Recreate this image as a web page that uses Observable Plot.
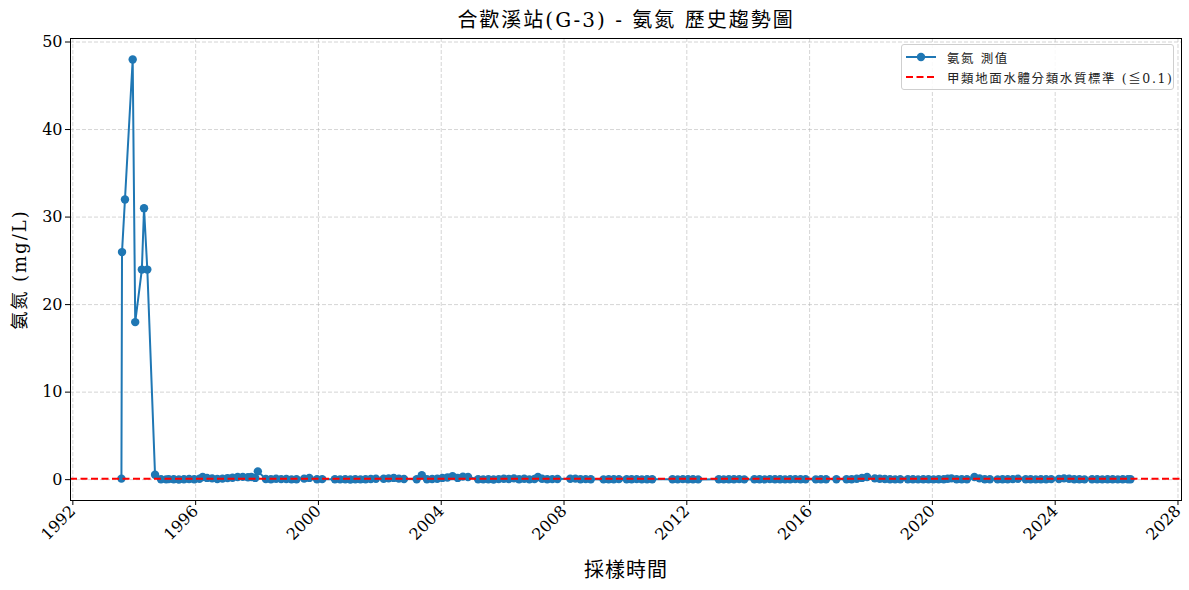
<!DOCTYPE html>
<html>
<head>
<meta charset="utf-8">
<script src="https://cdn.jsdelivr.net/npm/d3@7"></script>
<script src="https://cdn.jsdelivr.net/npm/@observablehq/plot@0.6"></script>
<style>
  html, body { margin: 0; padding: 0; background: #fff; }
  #wrap { position: relative; width: 1189px; height: 590px; font-family: "DejaVu Serif", "Noto Sans CJK TC", serif; }
  #legend { position: absolute; left: 901px; top: 44px; width: 271px; height: 44px; border: 1px solid #cfcfcf; border-radius: 3px; background: rgba(255,255,255,0.85); font-size: 12.5px; color: #222; }
  .row { position: absolute; left: 3px; height: 20px; display: flex; align-items: center; }
  .row span { margin-left: 10px; white-space: nowrap; letter-spacing: 1.6px; }
</style>
</head>
<body>
<div id="wrap">
  <div id="chart"></div>
  <div id="legend">
    <div class="row" style="top:2px"><svg width="32" height="12"><line x1="1" y1="6" x2="31" y2="6" stroke="#1f77b4" stroke-width="2"/><circle cx="16" cy="6" r="4.2" fill="#1f77b4"/></svg><span>氨氮 測值</span></div>
    <div class="row" style="top:22px"><svg width="32" height="12"><line x1="1" y1="6" x2="31" y2="6" stroke="red" stroke-width="2" stroke-dasharray="7,3.5"/></svg><span>甲類地面水體分類水質標準 (≦0.1)</span></div>
  </div>
</div>
<script>
const title = "合歡溪站(G-3) - 氨氮 歷史趨勢圖";
const xLabel = "採樣時間";
const yLabel = "氨氮 (mg/L)";
const standard = 0.1;
const yTicks = [0, 10, 20, 30, 40, 50];
const xTickYears = [1992, 1996, 2000, 2004, 2008, 2012, 2016, 2020, 2024, 2028];

const dates = [
"1993-08-01","1993-08-08","1993-09-12","1993-12-13","1994-01-12","1994-04-01","1994-04-27","1994-06-05","1994-09-05",
"1994-11-15","1995-01-15","1995-02-15","1995-04-15","1995-06-15","1995-08-15","1995-10-15","1995-12-15","1996-02-15","1996-03-25","1996-05-15","1996-07-15","1996-09-15","1996-11-15","1997-01-15","1997-03-15","1997-05-15","1997-07-15","1997-09-15","1997-10-25","1997-12-10","1998-01-10",
"1998-04-15","1998-06-15","1998-08-15","1998-10-15","1998-12-15","1999-02-15","1999-04-15","1999-07-15","1999-09-15","1999-12-15","2000-02-15",
"2000-07-15","2000-09-15","2000-11-15","2001-01-15","2001-03-15","2001-05-15","2001-07-15","2001-09-15","2001-11-15",
"2002-02-15","2002-04-15","2002-06-15","2002-08-15","2002-10-15",
"2003-03-15","2003-05-15","2003-07-15","2003-09-15","2003-11-15",
"2004-01-15","2004-03-15","2004-05-15","2004-07-15","2004-09-15","2004-11-15",
"2005-03-15","2005-05-15","2005-07-15","2005-09-15","2005-11-15",
"2006-01-15","2006-03-15","2006-05-15","2006-07-15","2006-09-15","2006-11-15",
"2007-01-15","2007-02-25","2007-04-15","2007-06-15","2007-08-15","2007-10-15",
"2008-03-15","2008-05-15","2008-07-15","2008-09-15","2008-11-15",
"2009-04-15","2009-06-15","2009-08-15","2009-10-15",
"2010-01-15","2010-03-15","2010-05-15","2010-07-15","2010-09-15","2010-11-15",
"2011-07-15","2011-09-15","2011-11-15","2012-01-15","2012-03-15","2012-05-15",
"2013-01-15","2013-03-15","2013-05-15","2013-07-15","2013-09-15","2013-11-15",
"2014-03-15","2014-05-15","2014-07-15","2014-09-15","2014-11-15",
"2015-01-15","2015-03-15","2015-05-15","2015-07-15","2015-09-15","2015-11-15",
"2016-03-15","2016-05-15","2016-07-15","2016-11-15",
"2017-03-15","2017-05-15","2017-07-15","2017-09-15","2017-11-15",
"2018-02-15","2018-04-15","2018-06-15","2018-08-15","2018-10-15","2018-12-15",
"2019-03-15","2019-05-15","2019-07-15","2019-09-15","2019-11-15",
"2020-01-15","2020-03-15","2020-05-15","2020-07-01","2020-08-15","2020-10-15","2020-12-15",
"2021-02-15","2021-05-15","2021-07-15","2021-09-15","2021-11-15",
"2022-02-15","2022-04-15","2022-06-15","2022-08-15","2022-10-15",
"2023-01-15","2023-03-15","2023-05-15","2023-07-15","2023-09-15","2023-11-15",
"2024-02-15","2024-04-15","2024-06-15","2024-08-15","2024-10-15","2024-12-15",
"2025-03-15","2025-05-15","2025-07-15","2025-09-15","2025-11-15","2026-01-15","2026-03-15","2026-05-15","2026-06-15"
];

const values = [
0.12,26,32,48,18,24,31,24,0.57,
0.05,0.03,0.06,0.04,0.02,0.05,0.08,0.04,0.1,0.3,0.2,0.15,0.08,0.12,0.18,0.22,0.3,0.32,0.28,0.3,0.2,0.95,
0.08,0.05,0.1,0.06,0.08,0.03,0.04,0.12,0.2,0.05,0.06,
0.05,0.03,0.04,0.02,0.05,0.03,0.04,0.08,0.1,
0.1,0.15,0.2,0.12,0.08,
0.05,0.5,0.05,0.08,0.1,
0.2,0.25,0.4,0.2,0.35,0.3,
0.05,0.03,0.04,0.02,0.06,
0.1,0.08,0.15,0.05,0.1,0.03,
0.08,0.3,0.1,0.05,0.06,0.08,
0.1,0.12,0.05,0.06,0.04,
0.03,0.05,0.04,0.06,
0.05,0.04,0.06,0.03,0.05,0.04,
0.05,0.03,0.06,0.04,0.05,0.03,
0.04,0.03,0.05,0.04,0.06,0.03,
0.04,0.05,0.03,0.06,0.04,
0.05,0.03,0.04,0.06,0.05,0.04,
0.03,0.05,0.04,0.05,
0.04,0.05,0.1,0.2,0.3,
0.15,0.1,0.08,0.05,0.03,0.04,
0.05,0.04,0.03,0.05,0.04,
0.03,0.05,0.04,0.1,0.15,0.05,0.04,
0.05,0.3,0.15,0.05,0.04,
0.03,0.05,0.04,0.06,0.1,
0.05,0.04,0.03,0.05,0.04,0.06,
0.08,0.15,0.1,0.05,0.04,0.03,
0.04,0.05,0.03,0.04,0.05,0.03,0.04,0.05,0.04
];

const data = dates.map((d, i) => ({date: new Date(d), value: values[i]}));
const xTicks = xTickYears.map(y => new Date(Date.UTC(y, 0, 1)));
const font = '"DejaVu Serif", "Noto Sans CJK TC", serif';

const chart = Plot.plot({
  width: 1189,
  height: 590,
  marginLeft: 70,
  marginRight: 8,
  marginTop: 38,
  marginBottom: 90,
  style: {fontFamily: font, fontSize: "16px", color: "#000", background: "#fff"},
  x: {type: "utc", domain: [new Date(Date.UTC(1991, 11, 4)), new Date(Date.UTC(2028, 1, 12))]},
  y: {domain: [-2.38, 50.4]},
  marks: [
    Plot.gridX(xTicks, {stroke: "#b0b0b0", strokeOpacity: 0.6, strokeDasharray: "4,2", strokeWidth: 0.9}),
    Plot.gridY(yTicks, {stroke: "#b0b0b0", strokeOpacity: 0.6, strokeDasharray: "4,2", strokeWidth: 0.9}),
    Plot.line(data, {x: "date", y: "value", stroke: "#1f77b4", strokeWidth: 2}),
    Plot.dot(data, {x: "date", y: "value", fill: "#1f77b4", r: 4.2}),
    Plot.ruleY([standard], {stroke: "red", strokeWidth: 2, strokeDasharray: "7,3.5"}),
    Plot.frame({stroke: "#000", strokeWidth: 1}),
    Plot.axisX(xTicks, {tickRotate: -45, tickFormat: d3.utcFormat("%Y"), tickSize: 5, tickPadding: 3, label: null, fontSize: 16}),
    Plot.axisY(yTicks, {tickSize: 5, tickPadding: 3, label: null, fontSize: 16}),
    Plot.text([title], {frameAnchor: "top", lineAnchor: "middle", textAnchor: "middle", dy: -18, fontSize: 20, fontFamily: font}),
    Plot.text([xLabel], {frameAnchor: "bottom", lineAnchor: "middle", textAnchor: "middle", dy: 70, fontSize: 20, fontFamily: font}),
    Plot.text([yLabel], {frameAnchor: "left", lineAnchor: "middle", textAnchor: "middle", dx: -50, rotate: -90, fontSize: 18, fontFamily: font})
  ]
});
document.getElementById("chart").appendChild(chart);
// letter spacing for the title / axis labels (text marks)
d3.select(chart).selectAll("text").filter(function() { return this.textContent === title; }).style("letter-spacing", "2px");
d3.select(chart).selectAll("text").filter(function() { return this.textContent === xLabel; }).style("letter-spacing", "1px");
d3.select(chart).selectAll("text").filter(function() { return this.textContent === yLabel; }).style("letter-spacing", "2px");
</script>
</body>
</html>
